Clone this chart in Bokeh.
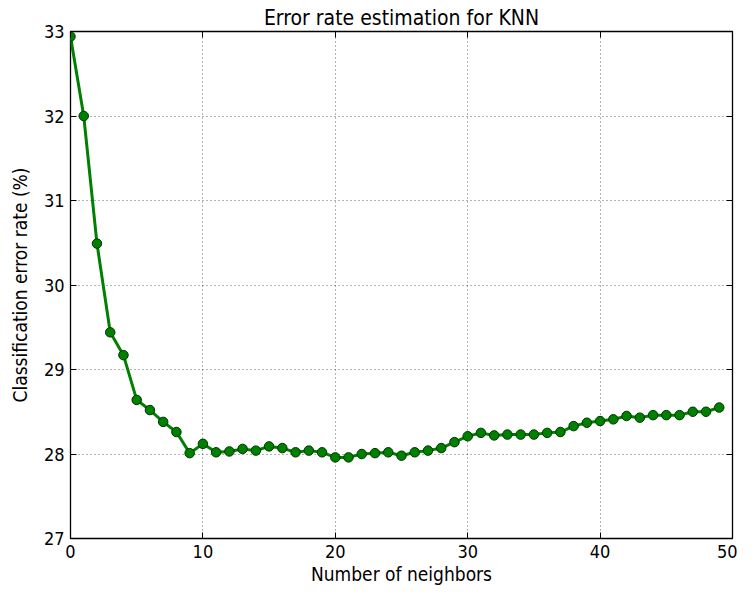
from bokeh.plotting import figure
from bokeh.models import Range1d, LinearAxis, FixedTicker
from bokeh.embed import file_html
from bokeh.resources import INLINE

neighbors = list(range(50))
error_rate = [32.94, 32.00, 30.49, 29.44, 29.17, 28.64, 28.52, 28.38, 28.26, 28.01,
              28.12, 28.02, 28.03, 28.06, 28.04, 28.09, 28.07, 28.02, 28.04, 28.02,
              27.96, 27.96, 28.00, 28.01, 28.02, 27.98, 28.02, 28.04, 28.07, 28.14,
              28.21, 28.25, 28.22, 28.23, 28.23, 28.23, 28.25, 28.26, 28.33, 28.37,
              28.39, 28.41, 28.45, 28.43, 28.46, 28.46, 28.46, 28.50, 28.50, 28.55]
x_ticks = [0, 10, 20, 30, 40, 50]
y_ticks = [27, 28, 29, 30, 31, 32, 33]

FONT = "DejaVu Sans Condensed, DejaVu Sans"

p = figure(width=737, height=587,
           x_range=Range1d(0, 50), y_range=Range1d(27, 33),
           output_backend="svg", toolbar_location=None,
           title="Error rate estimation for KNN",
           min_border_left=70, min_border_right=5, min_border_top=31, min_border_bottom=48)
p.background_fill_color = "white"
p.border_fill_color = "white"
p.outline_line_color = "black"
p.outline_line_width = 1.3

p.title.align = "center"
p.title.text_font = FONT
p.title.text_font_size = "21px"
p.title.text_font_style = "normal"
p.title.text_color = "black"
p.title.standoff = 3

for ax in (p.xaxis[0], p.yaxis[0]):
    ax.major_tick_in = 6
    ax.major_tick_out = 0
    ax.minor_tick_line_color = None
    ax.axis_line_color = None
    ax.major_tick_line_color = "black"
    ax.major_label_text_font = FONT
    ax.major_label_text_font_size = "18px"
    ax.major_label_text_color = "black"
    ax.axis_label_text_font = FONT
    ax.axis_label_text_font_size = "19px"
    ax.axis_label_text_font_style = "normal"
    ax.axis_label_text_color = "black"

p.xaxis[0].ticker = FixedTicker(ticks=x_ticks)
p.yaxis[0].ticker = FixedTicker(ticks=y_ticks)
p.xaxis[0].axis_label = "Number of neighbors"
p.yaxis[0].axis_label = "Classification error rate (%)"
p.xaxis[0].major_label_standoff = 6
p.xaxis[0].axis_label_standoff = 2
p.yaxis[0].major_label_standoff = 6
p.yaxis[0].axis_label_standoff = 10

for loc, tk in (("right", y_ticks), ("above", x_ticks)):
    ax = LinearAxis(ticker=FixedTicker(ticks=tk), major_label_text_font_size="0px",
                    major_tick_in=6, major_tick_out=0, minor_tick_line_color=None,
                    axis_line_color=None, major_label_standoff=0)
    p.add_layout(ax, loc)

p.xgrid.ticker = FixedTicker(ticks=x_ticks)
p.ygrid.ticker = FixedTicker(ticks=y_ticks)
for g in (p.xgrid, p.ygrid):
    g.grid_line_color = "black"
    g.grid_line_alpha = 0.6
    g.grid_line_dash = "1 3"
    g.grid_line_width = 1

p.line(neighbors, error_rate, line_color="#008000", line_width=3)
p.scatter(neighbors, error_rate, size=9.5, fill_color="#008000", line_color="#003300", line_width=1)

open("out.html", "w").write(file_html(p, INLINE))
